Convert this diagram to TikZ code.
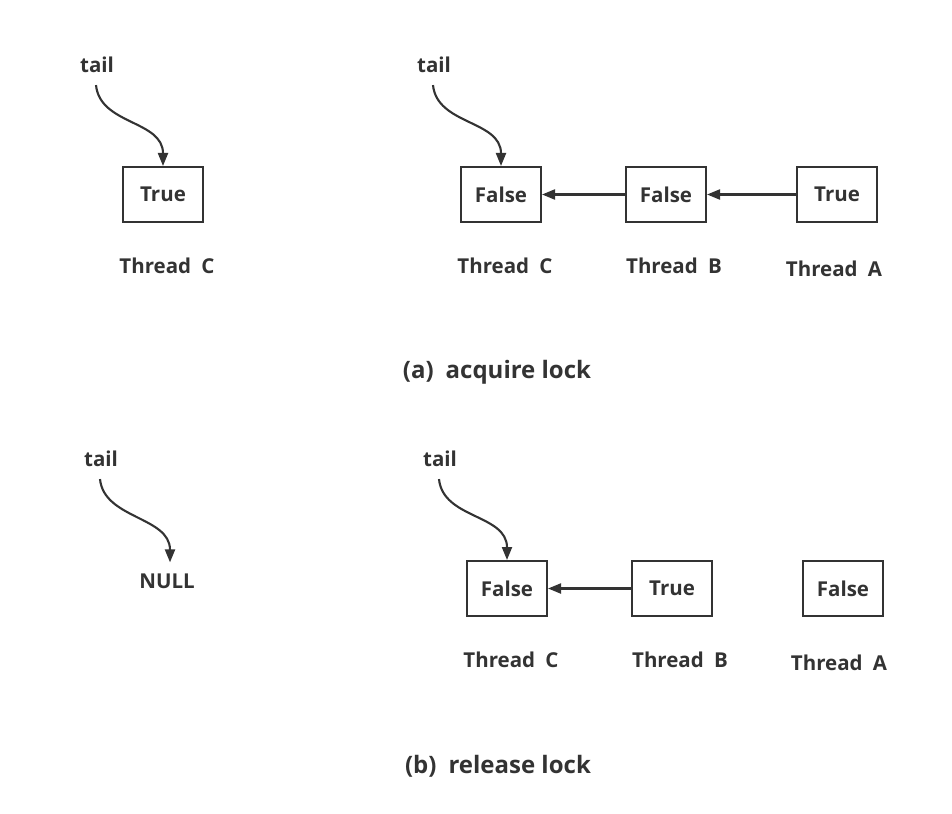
\documentclass[tikz,border=0pt]{standalone}
\usepackage{fontspec}
\setmainfont{Open Sans}
\usetikzlibrary{arrows.meta}
\definecolor{ink}{HTML}{333333}
\tikzset{
  lbl/.style={font=\bfseries\fontsize{20.5}{24}\selectfont, text=ink, inner sep=0pt},
  captxt/.style={font=\bfseries\fontsize{24}{28}\selectfont, text=ink, inner sep=0pt},
  cell/.style={draw=ink, line width=2pt, minimum width=80pt, minimum height=55pt, inner sep=0pt, font=\bfseries\fontsize{20.5}{24}\selectfont, text=ink},
  link/.style={draw=ink, line width=2.1pt, -{Triangle[length=13pt,width=10pt]}},
}
\begin{document}
\begin{tikzpicture}[x=1pt,y=-1pt]
\useasboundingbox (0,0) rectangle (952,813);
% (a) left
\node[lbl] (t1) at (97,65) {tail};
\node[cell] (a1) at (163,194.5) {True};
\node[lbl] (la1) at (167,266) {Thread\enspace C};
\draw[link] ([yshift=-12pt,xshift=-1pt]t1.south) .. controls +(4,40) and +(0,-46) .. (a1.north);
% (a) right
\node[lbl] (t2) at (434,65) {tail};
\node[cell] (ac) at (501,194.5) {False};
\node[cell] (ab) at (666,194.5) {False};
\node[cell] (aa) at (837,194.5) {True};
\node[lbl] (lac) at (505,266) {Thread\enspace C};
\node[lbl] (lab) at (674,266) {Thread\enspace B};
\node[lbl] (laa) at (834,269) {Thread\enspace A};
\draw[link] ([yshift=-12pt,xshift=-1pt]t2.south) .. controls +(4,40) and +(0,-46) .. (ac.north);
\draw[link] (ab.west) -- (ac.east);
\draw[link] (aa.west) -- (ab.east);
\node[captxt] (capa) at (497,372.5) {(a)\enspace acquire lock};
% (b) left
\node[lbl] (t3) at (101,459) {tail};
\node[lbl] (null) at (167,581) {NULL};
\draw[link] ([yshift=-12pt,xshift=-1pt]t3.south) .. controls +(4,40) and +(0,-46) .. ([yshift=11pt,xshift=3pt]null.north);
% (b) right
\node[lbl] (t4) at (440,459) {tail};
\node[cell] (bc) at (507,588.5) {False};
\node[cell] (bb) at (672,588.5) {True};
\node[cell] (ba) at (843,588.5) {False};
\node[lbl] (lbc) at (511,660) {Thread\enspace C};
\node[lbl] (lbb) at (680,660) {Thread\enspace B};
\node[lbl] (lba) at (839,663) {Thread\enspace A};
\draw[link] ([yshift=-12pt,xshift=-1pt]t4.south) .. controls +(4,40) and +(0,-46) .. (bc.north);
\draw[link] (bb.west) -- (bc.east);
\node[captxt] (capb) at (498,766.5) {(b)\enspace release lock};
\end{tikzpicture}
\end{document}
